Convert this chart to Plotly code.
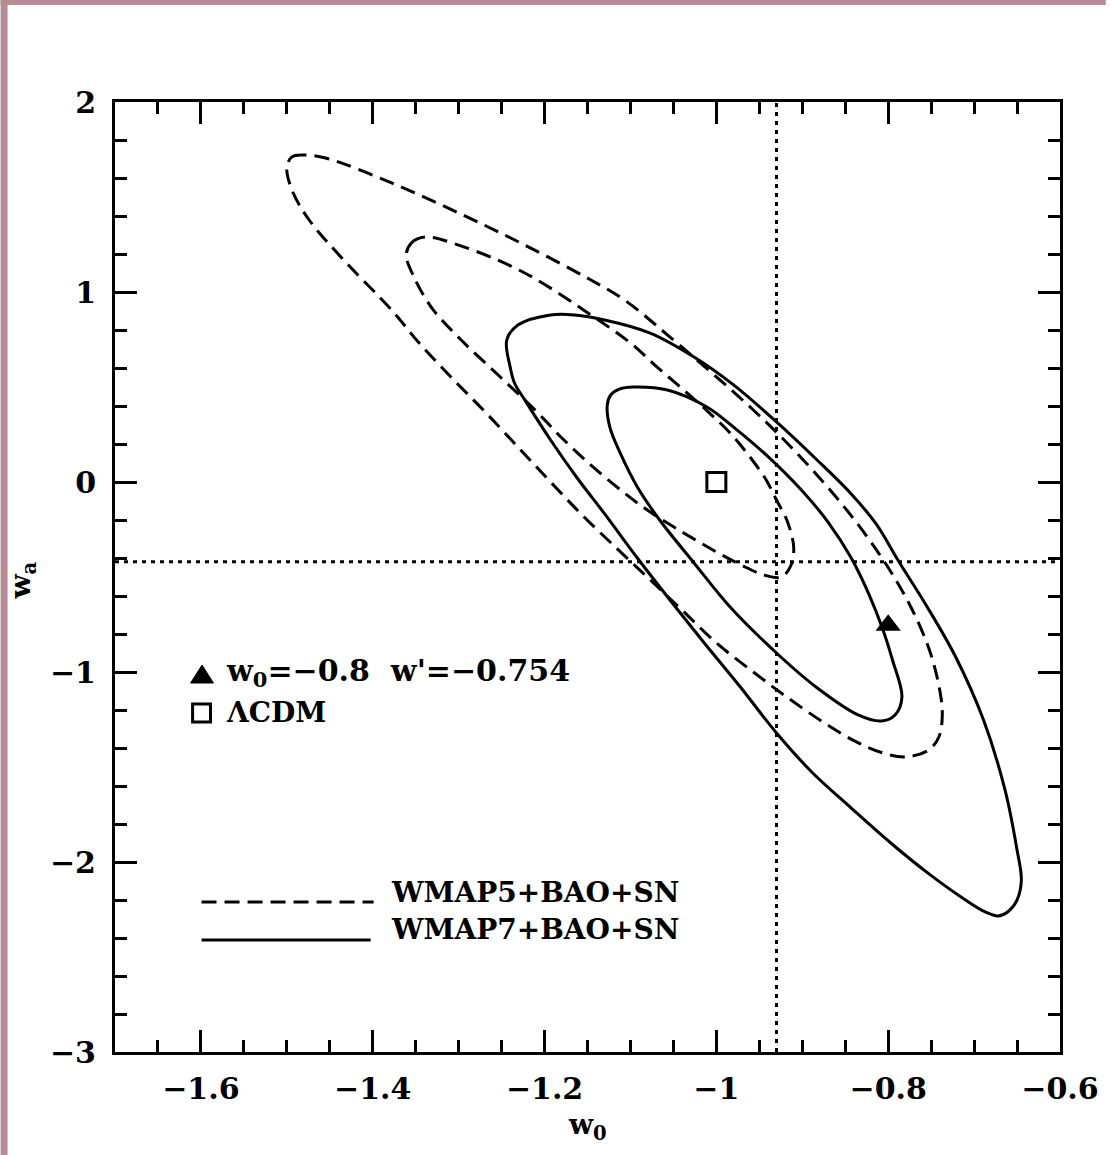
import plotly.graph_objects as go

# ---------------- data ----------------
# WMAP5+BAO+SN, outer (2 sigma) contour, dashed
w5_outer_w0 = [-1.500, -1.494, -1.482, -1.455, -1.378, -1.300, -1.223, -1.146, -1.107, -1.054,
               -0.957, -0.901, -0.851, -0.808, -0.776, -0.752, -0.740, -0.737, -0.741, -0.753,
               -0.780, -0.806, -0.837, -0.876, -0.918, -0.957, -1.000, -1.040, -1.078, -1.115,
               -1.154, -1.193, -1.231, -1.269, -1.309, -1.347, -1.378, -1.436, -1.474, -1.494,
               -1.500]
w5_outer_wa = [1.658, 1.711, 1.721, 1.705, 1.574, 1.416, 1.247, 1.063, 0.958, 0.763,
               0.379, 0.126, -0.132, -0.395, -0.637, -0.884, -1.095, -1.226, -1.342, -1.411,
               -1.447, -1.426, -1.368, -1.263, -1.132, -1.000, -0.847, -0.674, -0.511, -0.353,
               -0.184, 0.000, 0.184, 0.368, 0.553, 0.737, 0.905, 1.179, 1.379, 1.537,
               1.658]

# WMAP5+BAO+SN, inner (1 sigma) contour, dashed
w5_inner_w0 = [-1.361, -1.355, -1.339, -1.300, -1.223, -1.146, -1.100, -1.069, -1.038, -1.008,
               -0.984, -0.961, -0.942, -0.930, -0.918, -0.910, -0.913, -0.924, -0.945, -0.971,
               -1.000, -1.038, -1.077, -1.107, -1.146, -1.181, -1.211, -1.254, -1.297, -1.332,
               -1.353, -1.361]
w5_inner_wa = [1.195, 1.258, 1.289, 1.247, 1.100, 0.879, 0.732, 0.605, 0.484, 0.363,
               0.258, 0.132, 0.011, -0.095, -0.200, -0.342, -0.437, -0.500, -0.489, -0.437,
               -0.368, -0.268, -0.158, -0.058, 0.089, 0.237, 0.379, 0.563, 0.747, 0.921,
               1.089, 1.195]

# WMAP7+BAO+SN, outer (2 sigma) contour, solid
w7_outer_w0 = [-1.244, -1.240, -1.235, -1.223, -1.193, -1.162, -1.130, -1.092, -1.054, -1.015,
               -0.973, -0.930, -0.889, -0.843, -0.797, -0.751, -0.710, -0.687, -0.672, -0.661,
               -0.650, -0.645, -0.650, -0.664, -0.689, -0.722, -0.756, -0.788, -0.814, -0.843,
               -0.884, -0.930, -0.980, -1.026, -1.077, -1.130, -1.165, -1.193, -1.231, -1.244]
w7_outer_wa = [0.747, 0.605, 0.521, 0.432, 0.221, 0.021, -0.168, -0.400, -0.621, -0.842,
               -1.074, -1.321, -1.526, -1.716, -1.900, -2.068, -2.200, -2.263, -2.284, -2.263,
               -2.200, -2.095, -1.937, -1.621, -1.253, -0.916, -0.647, -0.416, -0.221, -0.063,
               0.121, 0.316, 0.511, 0.658, 0.784, 0.853, 0.879, 0.879, 0.826, 0.747]

# WMAP7+BAO+SN, inner (1 sigma) contour, solid
w7_inner_w0 = [-1.127, -1.123, -1.113, -1.096, -1.057, -1.011, -0.980, -0.938, -0.901, -0.870,
               -0.843, -0.822, -0.806, -0.795, -0.784, -0.792, -0.808, -0.835, -0.884, -0.930,
               -0.984, -1.026, -1.066, -1.092, -1.112, -1.124, -1.127]
w7_inner_wa = [0.405, 0.458, 0.489, 0.500, 0.484, 0.395, 0.289, 0.126, -0.042, -0.211,
               -0.400, -0.595, -0.779, -0.937, -1.132, -1.226, -1.258, -1.226, -1.079, -0.900,
               -0.658, -0.426, -0.200, -0.026, 0.153, 0.289, 0.405]

# special points
model_w0 = [-0.8]
model_wa = [-0.754]
lcdm_w0 = [-1.0]
lcdm_wa = [0.0]

# dotted reference lines
ref_w0 = -0.93
ref_wa = -0.42

x_range = [-1.7, -0.6]
y_range = [-3, 2]
x_tickvals = [-1.6, -1.4, -1.2, -1.0, -0.8, -0.6]
x_ticktext = ["\u22121.6", "\u22121.4", "\u22121.2", "\u22121", "\u22120.8", "\u22120.6"]
y_tickvals = [-3, -2, -1, 0, 1, 2]
y_ticktext = ["\u22123", "\u22122", "\u22121", "0", "1", "2"]

label_w5 = "WMAP5+BAO+SN"
label_w7 = "WMAP7+BAO+SN"
label_model = "w<sub>0</sub>=\u22120.8\u00a0\u00a0w'=\u22120.754"
label_lcdm = "\u039bCDM"
x_title = "w<sub>0</sub>"
y_title = "w<sub>a</sub>"

# ---------------- figure ----------------
W, H = 1111, 1155
ML, MR, MT, MB = 115, 46, 102, 103
PW, PH = W - ML - MR, H - MT - MB

def px(x):
    return (x - ML) / PW

def py(y):
    return (H - MB - y) / PH

FONT = "DejaVu Serif"
LW = 3
DASH = "15px,8px"
DOT = "4px,5px"

fig = go.Figure()

for xs, ys, dash in [(w5_outer_w0, w5_outer_wa, DASH), (w5_inner_w0, w5_inner_wa, DASH),
                     (w7_outer_w0, w7_outer_wa, "solid"), (w7_inner_w0, w7_inner_wa, "solid")]:
    fig.add_trace(go.Scatter(x=xs, y=ys, mode="lines",
                             line=dict(color="black", width=LW, dash=dash, shape="spline", smoothing=1.0),
                             showlegend=False, hoverinfo="skip"))

# dotted reference lines
fig.add_trace(go.Scatter(x=[ref_w0, ref_w0], y=y_range, mode="lines",
                         line=dict(color="black", width=3, dash=DOT), showlegend=False, hoverinfo="skip"))
fig.add_trace(go.Scatter(x=x_range, y=[ref_wa, ref_wa], mode="lines",
                         line=dict(color="black", width=3, dash=DOT), showlegend=False, hoverinfo="skip"))

fig.add_trace(go.Scatter(x=model_w0, y=model_wa, mode="markers",
                         marker=dict(symbol="triangle-up", size=22, color="black"),
                         showlegend=False, hoverinfo="skip"))
fig.add_trace(go.Scatter(x=lcdm_w0, y=lcdm_wa, mode="markers",
                         marker=dict(symbol="square-open", size=19, color="black", line=dict(width=3)),
                         showlegend=False, hoverinfo="skip"))

shapes = []
# pink frame strips (left and top)
PINK = "rgb(183,140,148)"
shapes.append(dict(type="rect", xref="paper", yref="paper", x0=px(0), x1=px(7), y0=py(H), y1=py(0),
                   fillcolor=PINK, line=dict(width=0), layer="below"))
shapes.append(dict(type="rect", xref="paper", yref="paper", x0=px(0), x1=px(W), y0=py(5), y1=py(0),
                   fillcolor=PINK, line=dict(width=0), layer="below"))
# legend samples
shapes.append(dict(type="line", xref="paper", yref="paper", x0=px(202), x1=px(375), y0=py(902), y1=py(902),
                   line=dict(color="black", width=LW, dash=DASH)))
shapes.append(dict(type="line", xref="paper", yref="paper", x0=px(202), x1=px(372), y0=py(940), y1=py(940),
                   line=dict(color="black", width=LW)))
# legend symbols
shapes.append(dict(type="path", xref="paper", yref="paper",
                   path=f"M {px(191)} {py(683)} L {px(214)} {py(683)} L {px(202.5)} {py(665)} Z",
                   fillcolor="black", line=dict(color="black", width=1)))
shapes.append(dict(type="rect", xref="paper", yref="paper", x0=px(193), x1=px(211), y0=py(722), y1=py(704),
                   line=dict(color="black", width=3)))

annotations = []
def ann(text, x, y, size, xanchor="left", angle=0):
    annotations.append(dict(text=text, xref="paper", yref="paper", x=px(x), y=py(y), showarrow=False,
                            xanchor=xanchor, yanchor="middle", textangle=angle,
                            font=dict(family=FONT, size=size, color="black", weight=700)))

ann(label_model, 225, 672, 30)
ann(label_lcdm, 225, 712, 28)
ann(label_w5, 390, 892, 28)
ann(label_w7, 390, 929, 28)
ann(x_title, 590, 1126, 28, xanchor="center")
ann(y_title, 22, 580, 28, xanchor="center", angle=-90)

axis_common = dict(showline=True, linewidth=3, linecolor="black", mirror="ticks", ticks="inside",
                   ticklen=22, tickwidth=3, tickcolor="black", showgrid=False, zeroline=False,
                   tickfont=dict(family=FONT, size=30, color="black", weight=700))

fig.update_layout(
    width=W, height=H, autosize=False,
    margin=dict(l=ML, r=MR, t=MT, b=MB),
    paper_bgcolor="white", plot_bgcolor="white",
    xaxis=dict(range=x_range, tickvals=x_tickvals, ticktext=x_ticktext,
               minor=dict(dtick=0.05, tick0=0, ticks="inside", ticklen=12, tickwidth=3, tickcolor="black"),
               ticklabelstandoff=8, **axis_common),
    yaxis=dict(range=y_range, tickvals=y_tickvals, ticktext=y_ticktext,
               minor=dict(dtick=0.2, tick0=0, ticks="inside", ticklen=12, tickwidth=3, tickcolor="black"),
               ticklabelstandoff=10, **axis_common),
    shapes=shapes, annotations=annotations,
)

fig.write_html("out.html", config={"displayModeBar": False},
               post_script="document.body.style.margin='0';document.body.style.overflow='hidden';")
